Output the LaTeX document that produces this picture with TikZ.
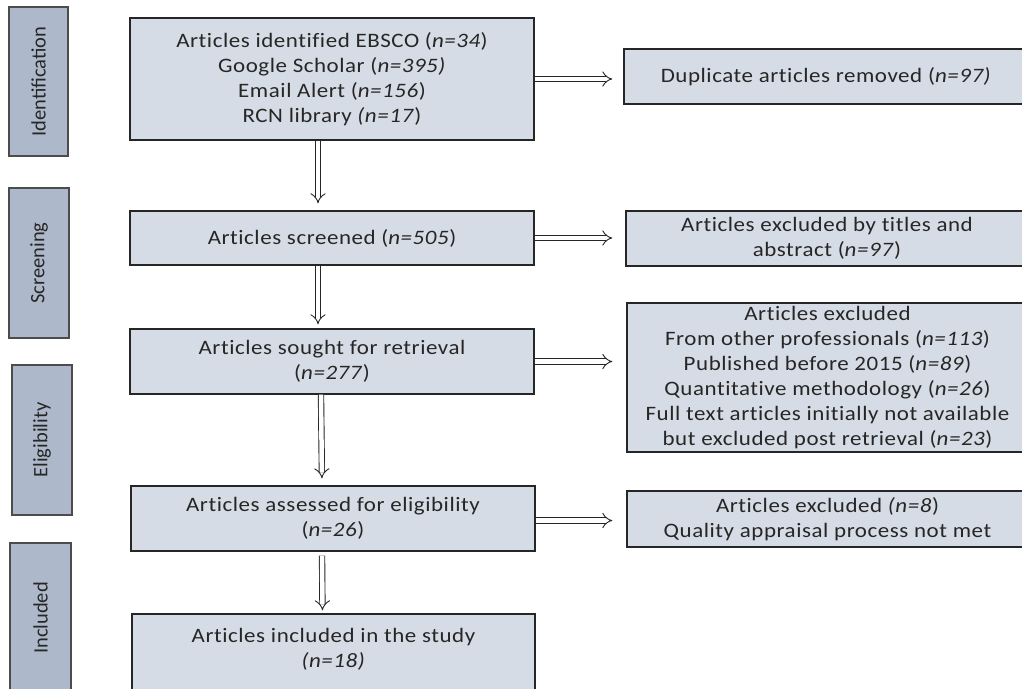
\documentclass[tikz,border=0pt]{standalone}
\usepackage{fontspec}
\setmainfont{Carlito}
\newfontfamily\boxfont{Carlito}[FakeStretch=1.12,LetterSpace=2.7,Ligatures=NoCommon]
\usetikzlibrary{arrows.meta}
\definecolor{boxfill}{HTML}{D6DCE5}
\definecolor{stagefill}{HTML}{ADB9CA}
\begin{document}
\begin{tikzpicture}[x=1pt,y=-1pt,
	box/.style={draw=black!85,line width=1.2pt,fill=boxfill,inner sep=0pt,align=center,text=black!85,font=\boxfont\fontsize{20.5}{25}\selectfont},
	stage/.style={draw=black!70,line width=1.8pt,fill=stagefill,inner sep=0pt,rotate=90,text=black!85,font=\fontsize{20.5}{25}\selectfont},
	flow/.style={double,double distance=4.5pt,line width=0.9pt,black!85,-{Implies}}]
	
	\useasboundingbox (0,0) rectangle (1022,688);
	\clip (0,0) rectangle (1022,688);
	
	% stages
	\node[stage,minimum width=149pt,minimum height=59pt] (ident) at (38.5,81.5) {Identification};
	\node[stage,minimum width=150pt,minimum height=60pt] (screen) at (39,263) {Screening};
	\node[stage,minimum width=150pt,minimum height=60pt] (elig) at (42,440) {Eligibility};
	\node[stage,minimum width=150pt,minimum height=61pt] (incl) at (40.5,618) {Included};
	
	% main column
	\node[box,minimum width=404pt,minimum height=122pt] (found) at (332,79) {Articles identified EBSCO (\textit{n=34})\\Google Scholar (\textit{n=395)}\\Email Alert (\textit{n=156})\\RCN library \textit{(n=17})};
	\node[box,minimum width=404pt,minimum height=54pt] (screened) at (332,238) {Articles screened (\textit{n=505})};
	\node[box,minimum width=404pt,minimum height=65pt] (sought) at (332,361.5) {Articles sought for retrieval\\(\textit{n=277})};
	\node[box,minimum width=404pt,minimum height=65pt] (assessed) at (333,518.5) {Articles assessed for eligibility\\(\textit{n=26})};
	\node[box,minimum width=403pt,minimum height=92pt] (included) at (333.5,660) {Articles included in the study\\\textit{(n=18)}\\ };
	
	% exclusions
	\node[box,minimum width=404pt,minimum height=55pt] (dupl) at (826,76.5) {Duplicate articles removed (\textit{n=97)}};
	\node[box,minimum width=402pt,minimum height=55pt] (bytitle) at (827,238.5) {Articles excluded by titles and\\abstract (\textit{n=97})};
	\node[box,minimum width=401pt,minimum height=149pt] (excl) at (827.5,377.5) {Articles excluded\\From other professionals (\textit{n=113})\\Published before 2015 (\textit{n=89})\\Quantitative methodology (\textit{n=26})\\Full text articles initially not available\\but excluded post retrieval (\textit{n=23})};
	\node[box,minimum width=401pt,minimum height=56pt] (appraisal) at (827.5,519) {Articles excluded \textit{(n=8})\\Quality appraisal process not met};
	
	\draw[flow,shorten >=7pt] ([xshift=-14pt]found.south) -- ([xshift=-14pt]screened.north);
	\draw[flow,shorten >=4pt] ([xshift=-14pt]screened.south) -- ([xshift=-14pt]sought.north);
	\draw[flow,shorten >=7pt] ([xshift=-11pt]sought.south) -- ([xshift=-11pt]assessed.north);
	\draw[flow,shorten <=4pt,shorten >=3pt] ([xshift=-11pt]assessed.south) -- ([xshift=-11pt]included.north);
	
	\draw[flow,shorten >=11pt] (found.east) -- (found.east -| dupl.west);
	\draw[flow,shorten >=13pt] (screened.east) -- (screened.east -| bytitle.west);
	\draw[flow,shorten >=14pt] (sought.east) -- (sought.east -| excl.west);
	\draw[flow,shorten >=14pt] ([yshift=-2pt]assessed.east) -- ([yshift=-2pt]assessed.east -| appraisal.west);
\end{tikzpicture}
\end{document}
